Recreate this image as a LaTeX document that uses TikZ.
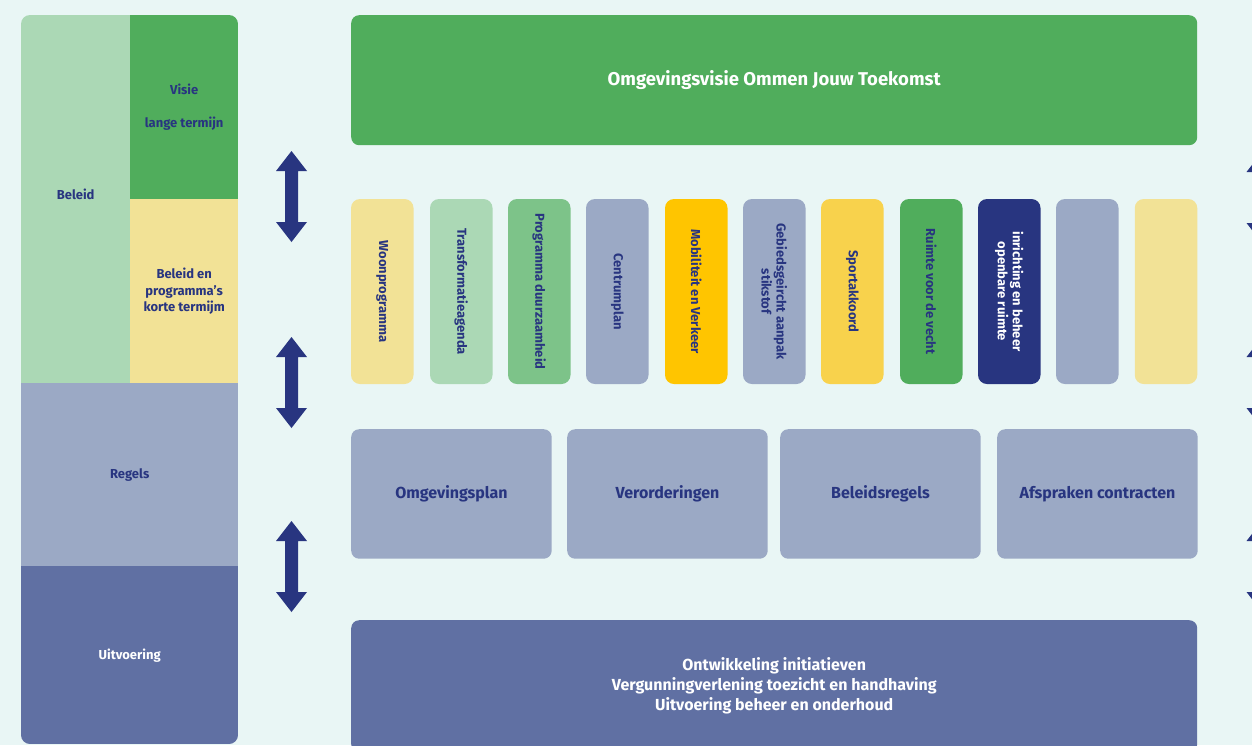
\documentclass[tikz,border=0pt]{standalone}
\usepackage{fontspec}
\setmainfont{Fira Sans}
\definecolor{bg}{HTML}{E9F6F5}
\definecolor{navy}{HTML}{283580}
\definecolor{lgreen}{HTML}{ABD8B5}
\definecolor{green}{HTML}{50AD5C}
\definecolor{mgreen}{HTML}{7DC389}
\definecolor{pyellow}{HTML}{F2E296}
\definecolor{greyblue}{HTML}{9BA9C5}
\definecolor{midblue}{HTML}{6070A3}
\definecolor{gold}{HTML}{FFC500}
\definecolor{sunny}{HTML}{F8D24C}
\begin{document}
\begin{tikzpicture}[x=1pt,y=-1pt,font=\bfseries,
  box/.style={rounded corners=8pt,inner sep=0pt,align=center,text=navy},
  panel/.style={inner sep=0pt,align=center,text=navy,anchor=north west,font=\bfseries\fontsize{13}{16.5}\selectfont},
  vbox/.style={box,minimum width=62.5pt,minimum height=185pt,rounded corners=9pt},
  vtext/.style={rotate=-90,align=center,font=\bfseries\fontsize{13}{15}\selectfont},
  rbox/.style={box,minimum width=200.5pt,minimum height=129.5pt,fill=greyblue,font=\bfseries\fontsize{16}{18}\selectfont},
  dbl/.pic={\fill[navy] (0,0) -- ++(15.5,20) -- ++(-9,0) -- ++(0,51) -- ++(9,0) -- ++(-15.5,20)
     -- ++(-15.5,-20) -- ++(9,0) -- ++(0,-51) -- ++(-9,0) -- cycle;}]
\useasboundingbox (0,0) rectangle (1252,745);
\clip (0,0) rectangle (1252,745);
\fill[bg] (0,0) rectangle (1252,745);

% left panel
\begin{scope}
\clip[rounded corners=9pt] (21,15) rectangle (238,744);
\node[panel,fill=lgreen,minimum width=109pt,minimum height=368pt] (beleid) at (21,15) {};
\node[panel,anchor=center] (beleidtxt) at ([yshift=5pt]beleid.center) {Beleid};
\node[panel,fill=green,minimum width=108pt,minimum height=184pt] (visie) at (130,15) {Visie\\[16.5pt]lange termijn};
\node[panel,fill=pyellow,minimum width=108pt,minimum height=184pt] (kort) at (130,199) {Beleid en\\programma’s\\korte termijm};
\node[panel,fill=greyblue,minimum width=217pt,minimum height=183pt] (regels) at (21,383) {Regels};
\node[panel,fill=midblue,minimum width=217pt,minimum height=178pt,text=white] (uitv) at (21,566) {Uitvoering};
\end{scope}

% top
\node[box,fill=green,minimum width=846pt,minimum height=130pt,text=white,font=\bfseries\fontsize{18.5}{22}\selectfont,anchor=north west] (visie2) at (351,15) {Omgevingsvisie Ommen Jouw Toekomst};

% vertical boxes
\node[vbox,fill=pyellow] (v1) at (382.25,291.5) {};
\node[vtext,text=navy] at (v1) {Woonprogramma};
\node[vbox,fill=lgreen] (v2) at (461.25,291.5) {};
\node[vtext,text=navy] at (v2) {Transformatieagenda};
\node[vbox,fill=mgreen] (v3) at (539.25,291.5) {};
\node[vtext,text=navy] at (v3) {Programma duurzaamheid};
\node[vbox,fill=greyblue] (v4) at (617.25,291.5) {};
\node[vtext,text=navy] at (v4) {Centrumplan};
\node[vbox,fill=gold] (v5) at (696.25,291.5) {};
\node[vtext,text=navy] at (v5) {Mobiliteit en Verkeer};
\node[vbox,fill=greyblue] (v6) at (774.25,291.5) {};
\node[vtext,text=navy] at (v6) {Gebiedsgeircht aanpak\\stikstof};
\node[vbox,fill=sunny] (v7) at (852.25,291.5) {};
\node[vtext,text=navy] at (v7) {Sportakkoord};
\node[vbox,fill=green] (v8) at (931.25,291.5) {};
\node[vtext,text=navy] at (v8) {Ruimte voor de vecht};
\node[vbox,fill=navy] (v9) at (1009.25,291.5) {};
\node[vtext,text=white] at (v9) {inrichting en beheer\\openbare ruimte};
\node[vbox,fill=greyblue] (v10) at (1087.25,291.5) {};
\node[vbox,fill=pyellow] (v11) at (1166,291.5) {};

% rules row
\node[rbox,anchor=north west] (r1) at (351,429) {Omgevingsplan};
\node[rbox,anchor=north west] (r2) at (567,429) {Verorderingen};
\node[rbox,anchor=north west] (r3) at (780,429) {Beleidsregels};
\node[rbox,anchor=north west] (r4) at (997,429) {Afspraken contracten};

% bottom
\node[box,fill=midblue,minimum width=846pt,minimum height=132pt,text=white,font=\bfseries\fontsize{16}{20}\selectfont,anchor=north west] (uitv2) at (351,620) {Ontwikkeling initiatieven\\Vergunningverlening toezicht en handhaving\\Uitvoering beheer en onderhoud};

% double arrows
\pic at (291.5,151) {dbl};
\pic at (291.5,337) {dbl};
\pic at (291.5,521) {dbl};
\pic at (1262,152) {dbl};
\pic at (1262,337) {dbl};
\pic at (1262,521) {dbl};
\end{tikzpicture}
\end{document}
